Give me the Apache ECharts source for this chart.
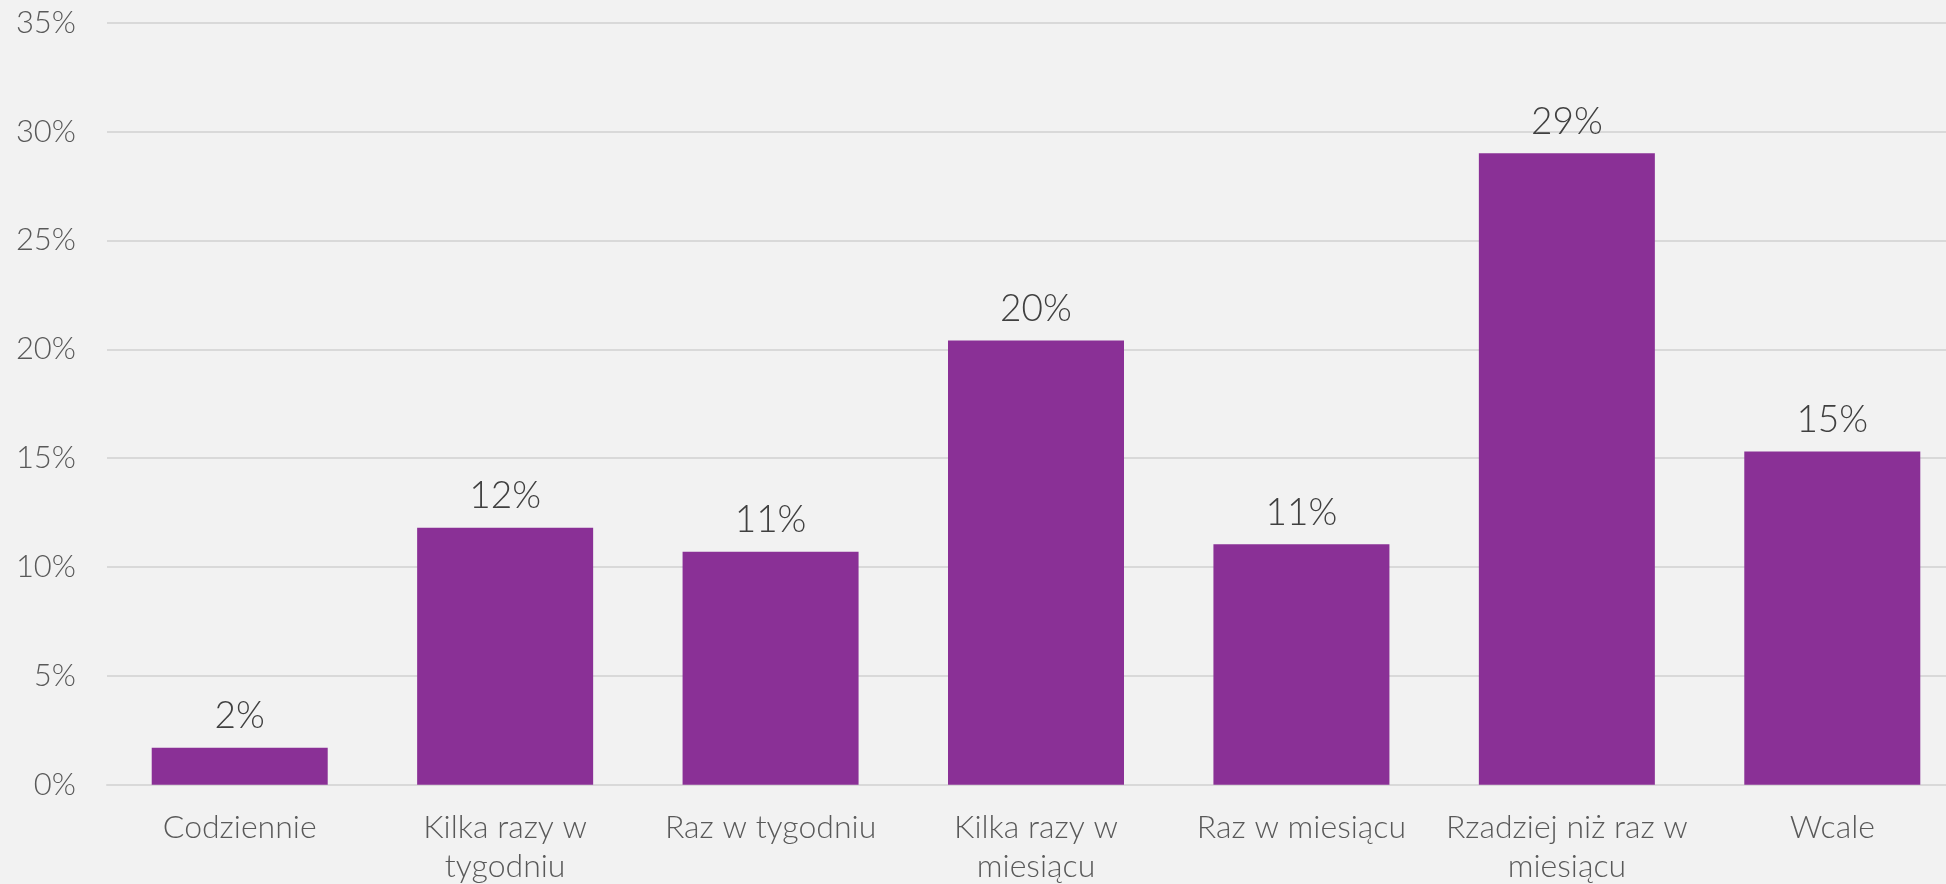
<!DOCTYPE html>
<html>
<head>
<meta charset="utf-8">
<script src="https://cdn.jsdelivr.net/npm/echarts@6/dist/echarts.min.js"></script>
<style>
html,body{margin:0;padding:0;background:#F2F2F2;}
#chart{width:1946px;height:884px;}
</style>
</head>
<body>
<div id="chart"></div>
<script>
const categories = [
  "Codziennie",
  "Kilka razy w\ntygodniu",
  "Raz w tygodniu",
  "Kilka razy w\nmiesiącu",
  "Raz w miesiącu",
  "Rzadziej niż raz w\nmiesiącu",
  "Wcale"
];
const values = [1.7, 11.8, 10.7, 20.4, 11.05, 29.0, 15.3];
const yTicks = { min: 0, max: 35, interval: 5 };

const FONT = "Lato";
const chart = echarts.init(document.getElementById("chart"), null, { renderer: "canvas" });
chart.setOption({
  backgroundColor: "#F2F2F2",
  animation: false,
  grid: { left: 107, top: 22.7, bottom: 99.3, right: -19, containLabel: false, outerBoundsMode: "none" },
  xAxis: {
    type: "category",
    data: categories,
    axisLine: { show: true, lineStyle: { color: "#D9D9D9", width: 2 } },
    axisTick: { show: false },
    axisLabel: {
      color: "#595959",
      fontFamily: FONT,
      fontWeight: 300,
      fontSize: 32,
      lineHeight: 39,
      margin: 23,
      interval: 0
    }
  },
  yAxis: {
    type: "value",
    min: yTicks.min,
    max: yTicks.max,
    interval: yTicks.interval,
    axisLine: { show: false },
    axisTick: { show: false },
    splitLine: { show: true, lineStyle: { color: "#D9D9D9", width: 2 } },
    axisLabel: {
      formatter: "{value}%",
      color: "#595959",
      fontFamily: FONT,
      fontWeight: 300,
      fontSize: 31,
      margin: 31
    }
  },
  series: [{
    type: "bar",
    data: values,
    barWidth: 176,
    itemStyle: { color: "#8A3096" },
    label: {
      show: true,
      position: "top",
      distance: 13,
      color: "#404040",
      fontFamily: FONT,
      fontWeight: 300,
      fontSize: 37,
      formatter: p => Math.round(p.value) + "%"
    }
  }]
});
</script>
</body>
</html>
